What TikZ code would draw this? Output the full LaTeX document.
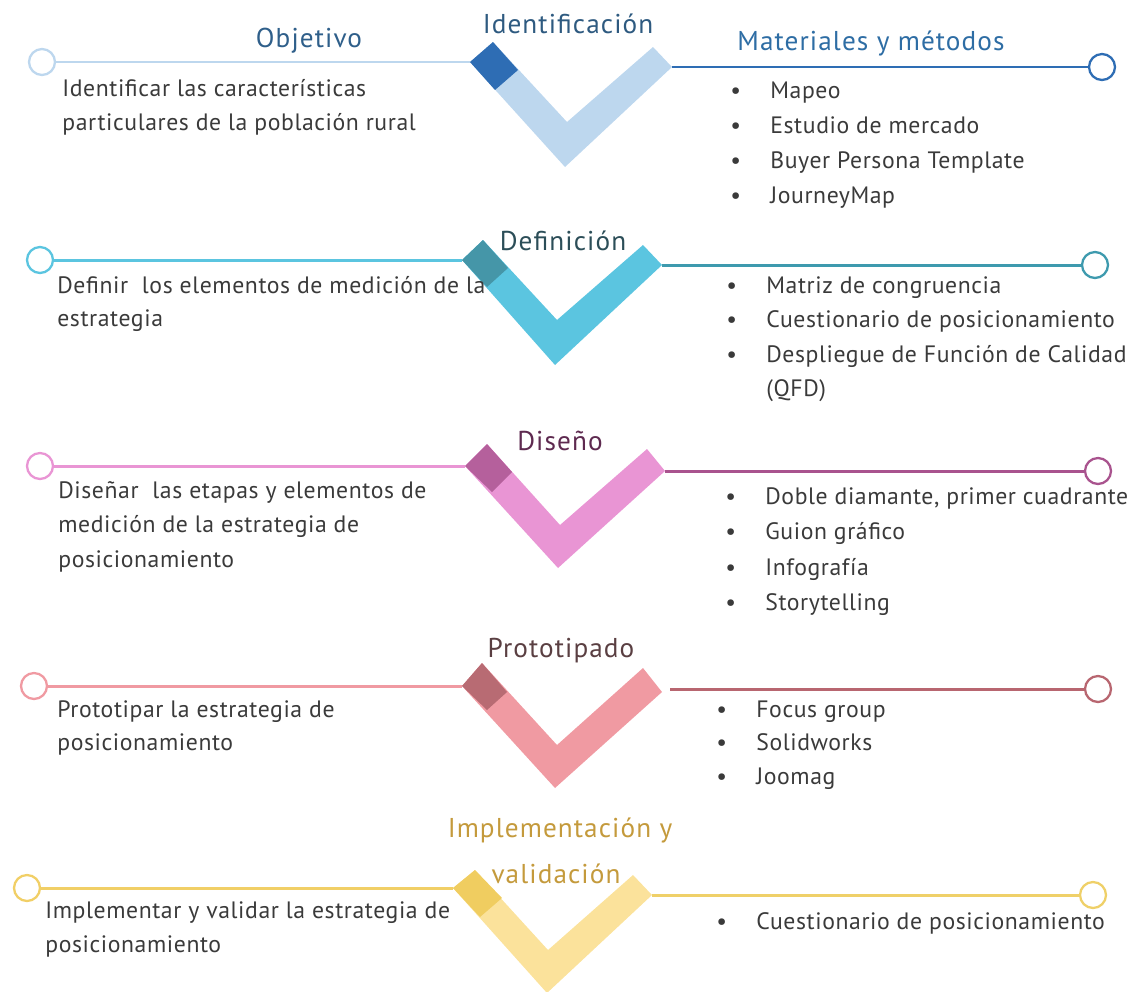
\documentclass[tikz,border=0pt]{standalone}
\usepackage{fontspec}
\setmainfont{PT Sans}
\newfontfamily\ttlfam[LetterSpace=4]{PT Sans}
\newfontfamily\bodyfam[LetterSpace=2.5]{PT Sans}
\definecolor{txt}{HTML}{3A3A3A}
% row 1 blue
\definecolor{armA}{HTML}{BDD7EE}
\definecolor{sqA}{HTML}{2E6DB4}
\definecolor{rA}{HTML}{2E6DB4}
\definecolor{tA}{HTML}{2E5A80}
\definecolor{tAl}{HTML}{2F5F8A}
\definecolor{tAr}{HTML}{2E6DA4}
% row 2 cyan
\definecolor{armB}{HTML}{5BC5E0}
\definecolor{sqB}{HTML}{4596A8}
\definecolor{rB}{HTML}{3E9AAE}
\definecolor{tB}{HTML}{2C4E58}
% row 3 pink
\definecolor{armC}{HTML}{E995D4}
\definecolor{sqC}{HTML}{B5609C}
\definecolor{rC}{HTML}{A9538E}
\definecolor{tC}{HTML}{5E2A50}
% row 4 rose
\definecolor{armD}{HTML}{F09AA2}
\definecolor{sqD}{HTML}{B86B73}
\definecolor{rD}{HTML}{B86670}
\definecolor{tD}{HTML}{5A3F42}
% row 5 yellow
\definecolor{armE}{HTML}{FBE29B}
\definecolor{sqE}{HTML}{F0CD60}
\definecolor{lE}{HTML}{F1CF66}
\definecolor{rE}{HTML}{EFD068}
\definecolor{tE}{HTML}{C49A3C}
\tikzset{
  circ/.style={circle, minimum size=0.52cm, inner sep=0pt, line width=1.3pt, fill=white},
  lnk/.style={line width=1.7pt},
  ttl/.style={font=\ttlfam\fontsize{15.5}{18}\selectfont, inner sep=0pt, anchor=base},
  body/.style={font=\bodyfam\fontsize{13.5}{16}\selectfont, text=txt, inner sep=0pt, anchor=base west},
  blt/.style={body},
}
\newcommand{\bl}[1]{\makebox[0.8cm][l]{\textbullet}#1}
\begin{document}
\begin{tikzpicture}[x=0.02cm,y=-0.02cm]
\useasboundingbox (0,0) rectangle (1131,991);
\clip (0,0) rectangle (1131,991);

% ---------------- Row 1 ----------------
\coordinate (a1) at (470,62); \coordinate (b1) at (493,42);
\coordinate (i1) at (567,122); \coordinate (ri1) at (653,47);
\coordinate (ro1) at (672,67); \coordinate (bt1) at (565,167);
\fill[armA] (a1) -- (bt1) -- (ro1) -- (ri1) -- (i1) -- (b1) -- cycle;
\fill[sqA] (a1) -- (b1) -- (518,70) -- (495,90) -- cycle;
\node[circ, draw=armA] (lc1) at (42,62) {};
\node[circ, draw=rA] (rc1) at (1102,67) {};
\draw[lnk, armA] (lc1) -- (a1);
\draw[lnk, rA] (ro1) -- (rc1);
\node[ttl, text=tA] (h1) at (568,33) {Identificación};
\node[ttl, text=tAl] (h1l) at (309,47) {Objetivo};
\node[ttl, text=tAr] (h1r) at (871,50) {Materiales y métodos};
\node[body] (t1a) at (62,96) {Identificar las características};
\node[body] (t1b) at (62,130) {particulares de la población rural};
\node[blt] (m1a) at (730,98) {\bl{Mapeo}};
\node[blt] (m1b) at (730,133) {\bl{Estudio de mercado}};
\node[blt] (m1c) at (730,168) {\bl{Buyer Persona Template}};
\node[blt] (m1d) at (730,203) {\bl{JourneyMap}};

% ---------------- Row 2 ----------------
\coordinate (a2) at (462,260); \coordinate (b2) at (483,240);
\coordinate (i2) at (557,320); \coordinate (ri2) at (643,245);
\coordinate (ro2) at (662,265); \coordinate (bt2) at (555,365);
\fill[armB] (a2) -- (bt2) -- (ro2) -- (ri2) -- (i2) -- (b2) -- cycle;
\fill[sqB] (a2) -- (b2) -- (508,268) -- (487,287) -- cycle;
\node[circ, draw=armB] (lc2) at (40,260) {};
\node[circ, draw=rB] (rc2) at (1095,265) {};
\draw[lnk, armB] (lc2) -- (a2);
\draw[lnk, rB] (ro2) -- (rc2);
\node[ttl, text=tB] (h2) at (563,250) {Definición};
\node[body] (t2a) at (57,293) {Definir \ los elementos de medición de la};
\node[body] (t2b) at (57,326) {estrategia};
\node[blt] (m2a) at (726,293) {\bl{Matriz de congruencia}};
\node[blt] (m2b) at (726,327) {\bl{Cuestionario de posicionamiento}};
\node[blt] (m2c) at (726,362) {\bl{Despliegue de Función de Calidad}};
\node[blt] (m2d) at (726,396) {\hspace{0.8cm}(QFD)};

% ---------------- Row 3 ----------------
\coordinate (a3) at (465,466); \coordinate (b3) at (487,444);
\coordinate (i3) at (560,525); \coordinate (ri3) at (647,449);
\coordinate (ro3) at (665,471); \coordinate (bt3) at (558,568);
\fill[armC] (a3) -- (bt3) -- (ro3) -- (ri3) -- (i3) -- (b3) -- cycle;
\fill[sqC] (a3) -- (b3) -- (512,472) -- (492,492) -- cycle;
\node[circ, draw=armC] (lc3) at (40,466) {};
\node[circ, draw=rC] (rc3) at (1098,471) {};
\draw[lnk, armC] (lc3) -- (a3);
\draw[lnk, rC] (ro3) -- (rc3);
\node[ttl, text=tC] (h3) at (560,450) {Diseño};
\node[body] (t3a) at (58,498) {Diseñar \ las etapas y elementos de};
\node[body] (t3b) at (58,532) {medición de la estrategia de};
\node[body] (t3c) at (58,567) {posicionamiento};
\node[blt] (m3a) at (725,504) {\bl{Doble diamante, primer cuadrante}};
\node[blt] (m3b) at (725,539) {\bl{Guion gráfico}};
\node[blt] (m3c) at (725,575) {\bl{Infografía}};
\node[blt] (m3d) at (725,610) {\bl{Storytelling}};

% ---------------- Row 4 ----------------
\coordinate (a4) at (462,686); \coordinate (b4) at (482,663);
\coordinate (i4) at (557,745); \coordinate (ri4) at (643,668);
\coordinate (ro4) at (662,692); \coordinate (bt4) at (555,788);
\coordinate (rs4) at (670,689);
\fill[armD] (a4) -- (bt4) -- (ro4) -- (ri4) -- (i4) -- (b4) -- cycle;
\fill[sqD] (a4) -- (b4) -- (507,692) -- (487,710) -- cycle;
\node[circ, draw=armD] (lc4) at (34,686) {};
\node[circ, draw=rD] (rc4) at (1098,689) {};
\draw[lnk, armD] (lc4) -- (a4);
\draw[lnk, rD] (rs4) -- (rc4);
\node[ttl, text=tD] (h4) at (561,657) {Prototipado};
\node[body] (t4a) at (57,717) {Prototipar la estrategia de};
\node[body] (t4b) at (57,750) {posicionamiento};
\node[blt] (m4a) at (716,717) {\bl{Focus group}};
\node[blt] (m4b) at (716,750) {\bl{Solidworks}};
\node[blt] (m4c) at (716,784) {\bl{Joomag}};

% ---------------- Row 5 ----------------
\coordinate (a5) at (453,888); \coordinate (b5) at (475,870);
\coordinate (i5) at (548,950); \coordinate (ri5) at (633,875);
\coordinate (ro5) at (652,895); \coordinate (bt5) at (547,993);
\fill[armE] (a5) -- (bt5) -- (ro5) -- (ri5) -- (i5) -- (b5) -- cycle;
\fill[sqE] (a5) -- (b5) -- (502,898) -- (480,917) -- cycle;
\node[circ, draw=lE] (lc5) at (27,888) {};
\node[circ, draw=rE] (rc5) at (1093,895) {};
\draw[lnk, lE] (lc5) -- (a5);
\draw[lnk, rE] (ro5) -- (rc5);
\node[ttl, text=tE] (h5a) at (560,837) {Implementación y};
\node[ttl, text=tE] (h5b) at (556,883) {validación};
\node[body] (t5a) at (45,918) {Implementar y validar la estrategia de};
\node[body] (t5b) at (45,952) {posicionamiento};
\node[blt] (m5a) at (716,929) {\bl{Cuestionario de posicionamiento}};
\end{tikzpicture}
\end{document}
